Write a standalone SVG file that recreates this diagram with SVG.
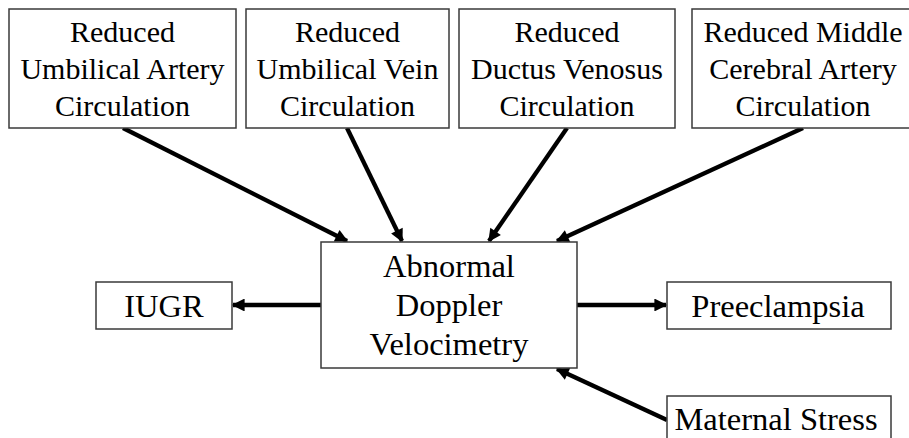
<svg xmlns="http://www.w3.org/2000/svg" width="909" height="438" viewBox="0 0 909 438">
  <style>
    .box { fill: #ffffff; stroke: #3a3a3a; stroke-width: 1.5; }
    .lbl { font-family: "Liberation Serif", "Times New Roman", serif; font-size: 30px; fill: #000000; text-anchor: middle; }
    .big { font-size: 32.5px; }
    .edge { stroke: #000000; stroke-width: 4.3; fill: none; marker-end: url(#head); }
  </style>
  <defs>
    <marker id="head" viewBox="0 0 10 10" refX="9" refY="5" markerWidth="3.3" markerHeight="3" orient="auto" markerUnits="strokeWidth">
      <path d="M0,0 L10,5 L0,10 Z" fill="#000000"/>
    </marker>
  </defs>
  <rect width="909" height="438" fill="#ffffff"/>

  <g id="connectors">
    <line class="edge" x1="123" y1="128" x2="347" y2="241"/>
    <line class="edge" x1="347" y1="128" x2="402" y2="241"/>
    <line class="edge" x1="567" y1="128" x2="489" y2="241"/>
    <line class="edge" x1="803" y1="128" x2="557" y2="241"/>
    <line class="edge" x1="321" y1="305" x2="233" y2="305"/>
    <line class="edge" x1="577" y1="305" x2="666" y2="305"/>
    <line class="edge" x1="667" y1="420" x2="557" y2="369"/>
  </g>

  <g id="umbilical-artery">
    <rect class="box" x="9" y="9" width="227" height="119"/>
    <text class="lbl" x="122.5" y="42">Reduced</text>
    <text class="lbl" x="122.5" y="79">Umbilical Artery</text>
    <text class="lbl" x="122.5" y="116">Circulation</text>
  </g>

  <g id="umbilical-vein">
    <rect class="box" x="246" y="9" width="203" height="119"/>
    <text class="lbl" x="347.5" y="42">Reduced</text>
    <text class="lbl" x="347.5" y="79">Umbilical Vein</text>
    <text class="lbl" x="347.5" y="116">Circulation</text>
  </g>

  <g id="ductus-venosus">
    <rect class="box" x="459" y="9" width="216" height="119"/>
    <text class="lbl" x="567" y="42">Reduced</text>
    <text class="lbl" x="567" y="79">Ductus Venosus</text>
    <text class="lbl" x="567" y="116">Circulation</text>
  </g>

  <g id="middle-cerebral-artery">
    <rect class="box" x="692" y="9" width="222" height="119"/>
    <text class="lbl" x="803" y="42">Reduced Middle</text>
    <text class="lbl" x="803" y="79">Cerebral Artery</text>
    <text class="lbl" x="803" y="116">Circulation</text>
  </g>

  <g id="abnormal-doppler">
    <rect class="box" x="321" y="242" width="256" height="126"/>
    <text class="lbl big" x="449" y="277">Abnormal</text>
    <text class="lbl big" x="449" y="316">Doppler</text>
    <text class="lbl big" x="449" y="355">Velocimetry</text>
  </g>

  <g id="iugr">
    <rect class="box" x="96" y="282" width="136" height="47"/>
    <text class="lbl big" x="164" y="317">IUGR</text>
  </g>

  <g id="preeclampsia">
    <rect class="box" x="667" y="282" width="224" height="47"/>
    <text class="lbl big" x="778" y="317">Preeclampsia</text>
  </g>

  <g id="maternal-stress">
    <rect class="box" x="667" y="396" width="224" height="60"/>
    <text class="lbl big" x="776" y="430">Maternal Stress</text>
  </g>
</svg>
